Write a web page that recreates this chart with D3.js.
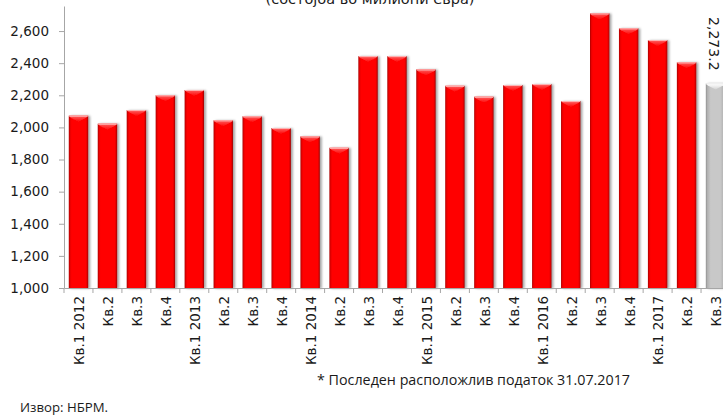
<!DOCTYPE html>
<html>
<head>
<meta charset="utf-8">
<script src="https://cdn.jsdelivr.net/npm/d3@7/dist/d3.min.js"></script>
<style>
  body { margin: 0; background: #fff; }
  svg { display: block; }
</style>
</head>
<body>
<svg id="chart" width="723" height="415"></svg>
<script>
// Quarterly stock, millions of euro
const quarters = ["Кв.1 2012","Кв.2","Кв.3","Кв.4","Кв.1 2013","Кв.2","Кв.3","Кв.4",
                  "Кв.1 2014","Кв.2","Кв.3","Кв.4","Кв.1 2015","Кв.2","Кв.3","Кв.4",
                  "Кв.1 2016","Кв.2","Кв.3","Кв.4","Кв.1 2017","Кв.2","Кв.3"];
const values = [2073, 2023, 2108, 2200, 2233, 2044, 2069, 1996,
                1944, 1873, 2444, 2444, 2361, 2259, 2191, 2264,
                2270, 2164, 2710, 2617, 2544, 2405, 2273.2];
// last quarter is preliminary (latest available data point)
const preliminary = [false,false,false,false,false,false,false,false,
                     false,false,false,false,false,false,false,false,
                     false,false,false,false,false,false,true];
const yTicks = [1000, 1200, 1400, 1600, 1800, 2000, 2200, 2400, 2600];
const yDomain = [1000, 2756];

const titleText = "(состојба во милиони евра)";
const sourceText = "Извор: НБРМ.";
const noteText = "* Последен расположлив податок 31.07.2017";

const svg = d3.select("#chart");
const plotLeft = 64, plotRight = 730, plotTop = 6, plotBottom = 288;
const axisColor = "#a6a6a6";
const fontMain = "'DejaVu Sans', Verdana, sans-serif";

const x = d3.scaleBand().domain(d3.range(quarters.length))
  .range([plotLeft, plotRight]).paddingInner(0.33).paddingOuter(0.165);
const y = d3.scaleLinear().domain(yDomain).range([plotBottom, plotTop]);

// gradients for the bevelled bars
const defs = svg.append("defs");
function hGrad(id, stops) {
  const g = defs.append("linearGradient").attr("id", id)
    .attr("x1", 0).attr("x2", 1).attr("y1", 0).attr("y2", 0);
  stops.forEach(([o, c]) => g.append("stop").attr("offset", o).attr("stop-color", c));
}
function vGrad(id, stops) {
  const g = defs.append("linearGradient").attr("id", id)
    .attr("x1", 0).attr("x2", 0).attr("y1", 0).attr("y2", 1);
  stops.forEach(([o, c]) => g.append("stop").attr("offset", o).attr("stop-color", c));
}
hGrad("redBody", [[0, "#a80000"], [0.07, "#e80000"], [0.15, "#ff0000"], [0.88, "#ff0000"], [0.95, "#d80000"], [1, "#900000"]]);
vGrad("redTop", [[0, "#ff9090"], [0.25, "#ff4a4a"], [1, "#ff0808"]]);
hGrad("grayBody", [[0, "#8f8f8f"], [0.08, "#b0b0b0"], [0.25, "#c8c8c8"], [0.75, "#c8c8c8"], [0.93, "#b0b0b0"], [1, "#8a8a8a"]]);
vGrad("grayTop", [[0, "#ffffff"], [0.4, "#f0f0f0"], [1, "#d2d2d2"]]);

const shadow = defs.append("filter").attr("id", "barShadow")
  .attr("x", "-20%").attr("y", "-10%").attr("width", "150%").attr("height", "120%");
shadow.append("feDropShadow").attr("dx", 2).attr("dy", 0.5)
  .attr("stdDeviation", 1.1).attr("flood-color", "#000").attr("flood-opacity", 0.35);

// bars
const bw = x.bandwidth();
const bars = svg.append("g").selectAll("g").data(values).join("g")
  .attr("filter", "url(#barShadow)");
bars.append("rect")
  .attr("x", (d, i) => x(i))
  .attr("y", d => y(d))
  .attr("width", bw)
  .attr("height", d => y(yDomain[0]) - y(d))
  .attr("fill", (d, i) => preliminary[i] ? "url(#grayBody)" : "url(#redBody)");
// top bevel facet
const bevel = 6;
bars.append("path")
  .attr("d", (d, i) => {
    const x0 = x(i), x1 = x(i) + bw, t = y(d);
    return `M${x0},${t}L${x1},${t}L${x1 - 2},${t + 2}L${(x0 + x1) / 2},${t + bevel}L${x0 + 2},${t + 2}Z`;
  })
  .attr("fill", (d, i) => preliminary[i] ? "url(#grayTop)" : "url(#redTop)");
bars.append("line")
  .attr("x1", (d, i) => x(i) + 0.5).attr("x2", (d, i) => x(i) + bw - 0.5)
  .attr("y1", d => y(d) + 0.5).attr("y2", d => y(d) + 0.5)
  .attr("stroke", (d, i) => preliminary[i] ? "#f4f4f4" : "#ffb4b4").attr("stroke-width", 1);

// y axis
const yAxis = svg.append("g").attr("transform", `translate(${plotLeft},0)`)
  .call(d3.axisLeft(y).tickValues(yTicks).tickSize(5).tickSizeOuter(0)
    .tickPadding(10).tickFormat(d3.format(",")));
yAxis.select(".domain").attr("stroke", axisColor);
yAxis.selectAll(".tick line").attr("stroke", axisColor);
yAxis.selectAll(".tick text").attr("font-family", fontMain).attr("font-size", 13.5)
  .attr("fill", "#1a1a1a");

// x axis baseline with category-boundary ticks
const xAxis = svg.append("g").attr("transform", `translate(0,${plotBottom})`)
  .call(d3.axisBottom(x).tickSize(0).tickFormat(""));
xAxis.select(".domain").attr("stroke", axisColor);
xAxis.selectAll(".tick").remove();
svg.append("g").selectAll("line").data(d3.range(quarters.length + 1)).join("line")
  .attr("x1", i => x.range()[0] + i * x.step()).attr("x2", i => x.range()[0] + i * x.step())
  .attr("y1", plotBottom).attr("y2", plotBottom + 5)
  .attr("stroke", axisColor);

// category labels, rotated
svg.append("g").selectAll("text").data(quarters).join("text")
  .attr("transform", (d, i) => `translate(${x(i) + bw / 2 + 1},${plotBottom + 8}) rotate(-90)`)
  .attr("text-anchor", "end")
  .attr("dy", "0.36em")
  .attr("font-family", fontMain).attr("font-size", 13.5).attr("fill", "#1a1a1a")
  .text(d => d);

// value label on the preliminary bar
svg.append("g").selectAll("text")
  .data(values.map((v, i) => ({ v, i })).filter(o => preliminary[o.i])).join("text")
  .attr("transform", o => `translate(${x(o.i) + bw / 2},${y(o.v) - 13}) rotate(90)`)
  .attr("text-anchor", "end")
  .attr("dy", "0.5em")
  .attr("font-family", fontMain).attr("font-size", 14).attr("fill", "#1a1a1a")
  .text(o => d3.format(",.1f")(o.v));

// title line (top) and footnotes
svg.append("text").attr("x", 370).attr("y", 4).attr("text-anchor", "middle")
  .attr("font-family", fontMain).attr("font-size", 14.5).attr("fill", "#1a1a1a")
  .text(titleText);
svg.append("text").attr("x", 20).attr("y", 412)
  .attr("font-family", "'Open Sans', sans-serif").attr("font-size", 13)
  .attr("textLength", 88).attr("lengthAdjust", "spacingAndGlyphs")
  .attr("fill", "#1a1a1a").text(sourceText);
svg.append("text").attr("x", 317).attr("y", 385)
  .attr("font-family", "'Open Sans', sans-serif").attr("font-size", 14)
  .attr("textLength", 313).attr("lengthAdjust", "spacingAndGlyphs")
  .attr("fill", "#1a1a1a").text(noteText);
</script>
</body>
</html>
